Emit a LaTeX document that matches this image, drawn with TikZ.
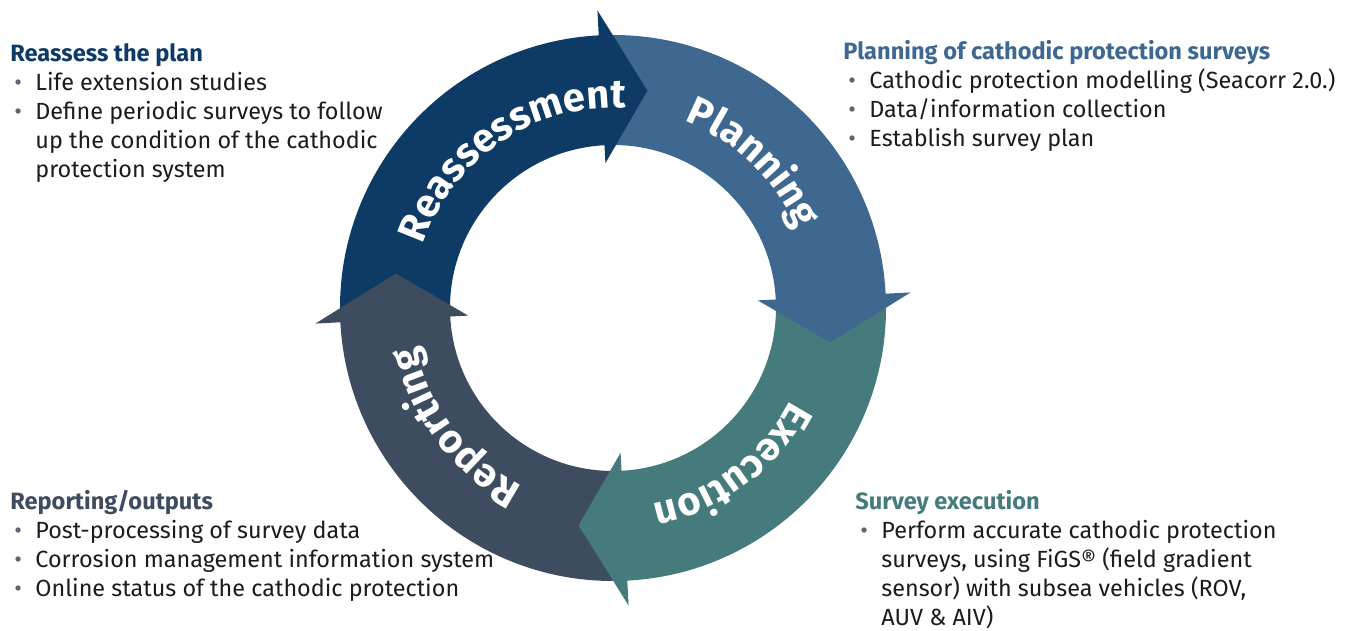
\documentclass[tikz,border=0pt]{standalone}
\usepackage{fontspec}
\setmainfont{Fira Sans}
\usepackage{tikz}
\usetikzlibrary{positioning, decorations.text}

\definecolor{reassess}{HTML}{0D3B66}
\definecolor{plan}{HTML}{3F6890}
\definecolor{exec}{HTML}{457B7C}
\definecolor{report}{HTML}{3E4C60}
\definecolor{bodytext}{HTML}{1C1C1C}
\definecolor{dot}{HTML}{5A6675}

\newcommand{\bulitem}{\strut\makebox[10.5pt][l]{\textcolor{dot}{\textbullet}}}
\newcommand{\bulcont}{\strut\hspace*{10.5pt}}
\newcommand{\ringfont}{\bfseries\fontsize{20}{24}\selectfont}

\tikzstyle{heading} = [anchor=base west, inner sep=0pt, font=\fontsize{11.8}{14.5}\selectfont\bfseries]
\tikzstyle{bullets} = [inner sep=0pt, align=left, text=bodytext, font=\fontsize{11.7}{14.5}\selectfont,
                       execute at begin node=\setlength{\lineskiplimit}{-6pt}]
\tikzstyle{ringlabel} = [decorate, decoration={text along path, text align=center, text color=white}]

\begin{document}
\begin{tikzpicture}[x=0.5pt, y=0.5pt]
    \path[fill=white, use as bounding box] (0,0) rectangle (1350,631);
    \coordinate (c) at (613,323);

    % ring: shafts first (each one runs on under its own head), then the heads
    \begin{scope}[shift={(c)}]
        \foreach \a/\b/\col in {182/92/reassess, 92/2/plan, 2/-88/exec, -88/-178/report}
            \fill[\col] (\a:273) arc[start angle=\a, end angle=\b, radius=273]
                -- (\b:163) arc[start angle=\b, end angle=\a, radius=163] -- cycle;
        \foreach \b/\col in {93/reassess, 3/plan, -87/exec, -177/report}
            \fill[\col] (\b:145) -- (\b:298) -- ({\b-12}:220) -- cycle;

        \path[ringlabel, decoration={text={|\ringfont|Reassessment}}] (164:200) arc[start angle=164, end angle=84, radius=200];
        \path[ringlabel, decoration={text={|\ringfont|Planning}}] (86:200) arc[start angle=86, end angle=6, radius=200];
        \path[ringlabel, decoration={text={|\ringfont|Execution}}] (-13:200) arc[start angle=-13, end angle=-93, radius=200];
        \path[ringlabel, decoration={text={|\ringfont|Reporting}}] (-103:200) arc[start angle=-103, end angle=-183, radius=200];
    \end{scope}

    \node (t1) [heading, text=reassess] at (10,569) {Reassess the plan};
    \node (l1) [bullets, below=1pt of t1.south west, anchor=north west, xshift=2pt]
        {\bulitem Life extension studies\\
         \bulitem Define periodic surveys to follow\\
         \bulcont up the condition of the cathodic\\
         \bulcont protection system};

    \node (t2) [heading, text=plan] at (843,571) {Planning of cathodic protection surveys};
    \node (l2) [bullets, below=1pt of t2.south west, anchor=north west, xshift=2.5pt]
        {\bulitem Cathodic protection modelling (Seacorr 2.0.)\\
         \bulitem Data/information collection\\
         \bulitem Establish survey plan};

    \node (t3) [heading, text=report] at (10,121) {Reporting/outputs};
    \node (l3) [bullets, below=1pt of t3.south west, anchor=north west, xshift=2pt]
        {\bulitem Post-processing of survey data\\
         \bulitem Corrosion management information system\\
         \bulitem Online status of the cathodic protection};

    \node (t4) [heading, text=exec] at (855,121) {Survey execution};
    \node (l4) [bullets, below=1pt of t4.south west, anchor=north west, xshift=2.5pt]
        {\bulitem Perform accurate cathodic protection\\
         \bulcont surveys, using FiGS® (field gradient\\
         \bulcont sensor) with subsea vehicles (ROV,\\
         \bulcont AUV \& AIV)};
\end{tikzpicture}
\end{document}
